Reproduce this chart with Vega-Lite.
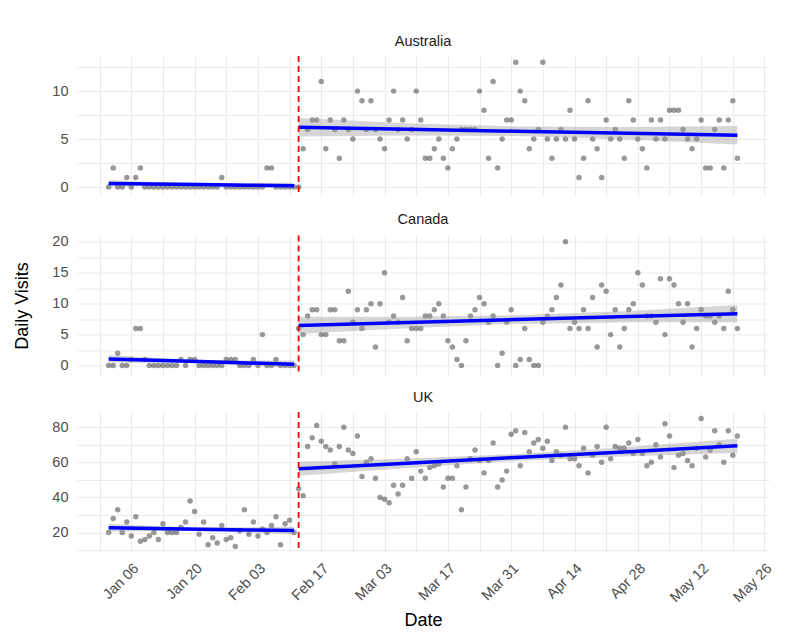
{
  "$schema": "https://vega.github.io/schema/vega-lite/v6.json",
  "padding": {"top": 33, "left": 13, "right": 0, "bottom": 0},
  "background": "white",
  "spacing": 12.5,
  "datasets": {
    "visits": [
      {"date": "2021/01/01", "Australia": 0, "Canada": 0, "UK": 20},
      {"date": "2021/01/02", "Australia": 2, "Canada": 0, "UK": 28},
      {"date": "2021/01/03", "Australia": 0, "Canada": 2, "UK": 33},
      {"date": "2021/01/04", "Australia": 0, "Canada": 0, "UK": 20},
      {"date": "2021/01/05", "Australia": 1, "Canada": 0, "UK": 26},
      {"date": "2021/01/06", "Australia": 0, "Canada": 1, "UK": 18},
      {"date": "2021/01/07", "Australia": 1, "Canada": 6, "UK": 29},
      {"date": "2021/01/08", "Australia": 2, "Canada": 6, "UK": 15},
      {"date": "2021/01/09", "Australia": 0, "Canada": 1, "UK": 16},
      {"date": "2021/01/10", "Australia": 0, "Canada": 0, "UK": 18},
      {"date": "2021/01/11", "Australia": 0, "Canada": 0, "UK": 20},
      {"date": "2021/01/12", "Australia": 0, "Canada": 0, "UK": 16},
      {"date": "2021/01/13", "Australia": 0, "Canada": 0, "UK": 25},
      {"date": "2021/01/14", "Australia": 0, "Canada": 0, "UK": 20},
      {"date": "2021/01/15", "Australia": 0, "Canada": 0, "UK": 20},
      {"date": "2021/01/16", "Australia": 0, "Canada": 0, "UK": 20},
      {"date": "2021/01/17", "Australia": 0, "Canada": 1, "UK": 23},
      {"date": "2021/01/18", "Australia": 0, "Canada": 0, "UK": 26},
      {"date": "2021/01/19", "Australia": 0, "Canada": 1, "UK": 38},
      {"date": "2021/01/20", "Australia": 0, "Canada": 1, "UK": 32},
      {"date": "2021/01/21", "Australia": 0, "Canada": 0, "UK": 19},
      {"date": "2021/01/22", "Australia": 0, "Canada": 0, "UK": 26},
      {"date": "2021/01/23", "Australia": 0, "Canada": 0, "UK": 13},
      {"date": "2021/01/24", "Australia": 0, "Canada": 0, "UK": 17},
      {"date": "2021/01/25", "Australia": 0, "Canada": 0, "UK": 14},
      {"date": "2021/01/26", "Australia": 1, "Canada": 0, "UK": 24},
      {"date": "2021/01/27", "Australia": 0, "Canada": 1, "UK": 16},
      {"date": "2021/01/28", "Australia": 0, "Canada": 1, "UK": 17},
      {"date": "2021/01/29", "Australia": 0, "Canada": 1, "UK": 12},
      {"date": "2021/01/30", "Australia": 0, "Canada": 0, "UK": 21},
      {"date": "2021/01/31", "Australia": 0, "Canada": 0, "UK": 33},
      {"date": "2021/02/01", "Australia": 0, "Canada": 0, "UK": 19},
      {"date": "2021/02/02", "Australia": 0, "Canada": 1, "UK": 26},
      {"date": "2021/02/03", "Australia": 0, "Canada": 0, "UK": 18},
      {"date": "2021/02/04", "Australia": 0, "Canada": 5, "UK": 22},
      {"date": "2021/02/05", "Australia": 2, "Canada": 0, "UK": 20},
      {"date": "2021/02/06", "Australia": 2, "Canada": 0, "UK": 24},
      {"date": "2021/02/07", "Australia": 0, "Canada": 1, "UK": 29},
      {"date": "2021/02/08", "Australia": 0, "Canada": 0, "UK": 13},
      {"date": "2021/02/09", "Australia": 0, "Canada": 0, "UK": 25},
      {"date": "2021/02/10", "Australia": 0, "Canada": 0, "UK": 27},
      {"date": "2021/02/11", "Australia": 0, "Canada": 0, "UK": 20},
      {"date": "2021/02/12", "Australia": 0, "Canada": 6, "UK": 45},
      {"date": "2021/02/13", "Australia": 4, "Canada": 5, "UK": 41},
      {"date": "2021/02/14", "Australia": 6, "Canada": 8, "UK": 69},
      {"date": "2021/02/15", "Australia": 7, "Canada": 9, "UK": 74},
      {"date": "2021/02/16", "Australia": 7, "Canada": 9, "UK": 81},
      {"date": "2021/02/17", "Australia": 11, "Canada": 5, "UK": 72},
      {"date": "2021/02/18", "Australia": 4, "Canada": 5, "UK": 69},
      {"date": "2021/02/19", "Australia": 7, "Canada": 9, "UK": 67},
      {"date": "2021/02/20", "Australia": 6, "Canada": 9, "UK": 59},
      {"date": "2021/02/21", "Australia": 3, "Canada": 4, "UK": 69},
      {"date": "2021/02/22", "Australia": 7, "Canada": 4, "UK": 80},
      {"date": "2021/02/23", "Australia": 6, "Canada": 12, "UK": 67},
      {"date": "2021/02/24", "Australia": 5, "Canada": 7, "UK": 65},
      {"date": "2021/02/25", "Australia": 10, "Canada": 9, "UK": 75},
      {"date": "2021/02/26", "Australia": 9, "Canada": 6, "UK": 52},
      {"date": "2021/02/27", "Australia": 6, "Canada": 9, "UK": 60},
      {"date": "2021/02/28", "Australia": 9, "Canada": 10, "UK": 62},
      {"date": "2021/03/01", "Australia": 6, "Canada": 3, "UK": 51},
      {"date": "2021/03/02", "Australia": 5, "Canada": 10, "UK": 40},
      {"date": "2021/03/03", "Australia": 4, "Canada": 15, "UK": 39},
      {"date": "2021/03/04", "Australia": 7, "Canada": 7, "UK": 37},
      {"date": "2021/03/05", "Australia": 10, "Canada": 8, "UK": 47},
      {"date": "2021/03/06", "Australia": 6, "Canada": 7, "UK": 42},
      {"date": "2021/03/07", "Australia": 7, "Canada": 11, "UK": 47},
      {"date": "2021/03/08", "Australia": 5, "Canada": 4, "UK": 62},
      {"date": "2021/03/09", "Australia": 6, "Canada": 6, "UK": 51},
      {"date": "2021/03/10", "Australia": 10, "Canada": 6, "UK": 66},
      {"date": "2021/03/11", "Australia": 7, "Canada": 6, "UK": 55},
      {"date": "2021/03/12", "Australia": 3, "Canada": 8, "UK": 51},
      {"date": "2021/03/13", "Australia": 3, "Canada": 8, "UK": 57},
      {"date": "2021/03/14", "Australia": 4, "Canada": 9, "UK": 58},
      {"date": "2021/03/15", "Australia": 5, "Canada": 10, "UK": 59},
      {"date": "2021/03/16", "Australia": 3, "Canada": 8, "UK": 46},
      {"date": "2021/03/17", "Australia": 2, "Canada": 4, "UK": 51},
      {"date": "2021/03/18", "Australia": 4, "Canada": 3, "UK": 51},
      {"date": "2021/03/19", "Australia": 5, "Canada": 1, "UK": 58},
      {"date": "2021/03/20", "Australia": 6, "Canada": 0, "UK": 33},
      {"date": "2021/03/21", "Australia": 6, "Canada": 4, "UK": 46},
      {"date": "2021/03/22", "Australia": 6, "Canada": 8, "UK": 62},
      {"date": "2021/03/23", "Australia": 6, "Canada": 9, "UK": 67},
      {"date": "2021/03/24", "Australia": 10, "Canada": 11, "UK": 61},
      {"date": "2021/03/25", "Australia": 8, "Canada": 10, "UK": 54},
      {"date": "2021/03/26", "Australia": 3, "Canada": 7, "UK": 61},
      {"date": "2021/03/27", "Australia": 11, "Canada": 8, "UK": 71},
      {"date": "2021/03/28", "Australia": 2, "Canada": 0, "UK": 46},
      {"date": "2021/03/29", "Australia": 5, "Canada": 2, "UK": 50},
      {"date": "2021/03/30", "Australia": 7, "Canada": 7, "UK": 55},
      {"date": "2021/03/31", "Australia": 7, "Canada": 9, "UK": 76},
      {"date": "2021/04/01", "Australia": 13, "Canada": 0, "UK": 78},
      {"date": "2021/04/02", "Australia": 10, "Canada": 1, "UK": 58},
      {"date": "2021/04/03", "Australia": 9, "Canada": 6, "UK": 77},
      {"date": "2021/04/04", "Australia": 4, "Canada": 1, "UK": 66},
      {"date": "2021/04/05", "Australia": 5, "Canada": 0, "UK": 71},
      {"date": "2021/04/06", "Australia": 6, "Canada": 0, "UK": 73},
      {"date": "2021/04/07", "Australia": 13, "Canada": 7, "UK": 68},
      {"date": "2021/04/08", "Australia": 5, "Canada": 8, "UK": 72},
      {"date": "2021/04/09", "Australia": 3, "Canada": 9, "UK": 61},
      {"date": "2021/04/10", "Australia": 5, "Canada": 11, "UK": 66},
      {"date": "2021/04/11", "Australia": 6, "Canada": 13, "UK": 64},
      {"date": "2021/04/12", "Australia": 5, "Canada": 20, "UK": 80},
      {"date": "2021/04/13", "Australia": 8, "Canada": 6, "UK": 62},
      {"date": "2021/04/14", "Australia": 5, "Canada": 7, "UK": 62},
      {"date": "2021/04/15", "Australia": 1, "Canada": 6, "UK": 58},
      {"date": "2021/04/16", "Australia": 3, "Canada": 9, "UK": 68},
      {"date": "2021/04/17", "Australia": 9, "Canada": 6, "UK": 54},
      {"date": "2021/04/18", "Australia": 5, "Canada": 11, "UK": 64},
      {"date": "2021/04/19", "Australia": 4, "Canada": 3, "UK": 69},
      {"date": "2021/04/20", "Australia": 1, "Canada": 13, "UK": 60},
      {"date": "2021/04/21", "Australia": 7, "Canada": 12, "UK": 80},
      {"date": "2021/04/22", "Australia": 5, "Canada": 5, "UK": 62},
      {"date": "2021/04/23", "Australia": 6, "Canada": 9, "UK": 69},
      {"date": "2021/04/24", "Australia": 5, "Canada": 3, "UK": 68},
      {"date": "2021/04/25", "Australia": 3, "Canada": 6, "UK": 68},
      {"date": "2021/04/26", "Australia": 9, "Canada": 9, "UK": 71},
      {"date": "2021/04/27", "Australia": 7, "Canada": 10, "UK": 65},
      {"date": "2021/04/28", "Australia": 5, "Canada": 15, "UK": 73},
      {"date": "2021/04/29", "Australia": 4, "Canada": 13, "UK": 65},
      {"date": "2021/04/30", "Australia": 2, "Canada": 8, "UK": 58},
      {"date": "2021/05/01", "Australia": 7, "Canada": 8, "UK": 60},
      {"date": "2021/05/02", "Australia": 5, "Canada": 7, "UK": 70},
      {"date": "2021/05/03", "Australia": 7, "Canada": 14, "UK": 63},
      {"date": "2021/05/04", "Australia": 5, "Canada": 5, "UK": 82},
      {"date": "2021/05/05", "Australia": 8, "Canada": 14, "UK": 75},
      {"date": "2021/05/06", "Australia": 8, "Canada": 13, "UK": 57},
      {"date": "2021/05/07", "Australia": 8, "Canada": 10, "UK": 64},
      {"date": "2021/05/08", "Australia": 6, "Canada": 7, "UK": 65},
      {"date": "2021/05/09", "Australia": 5, "Canada": 10, "UK": 61},
      {"date": "2021/05/10", "Australia": 4, "Canada": 3, "UK": 58},
      {"date": "2021/05/11", "Australia": 5, "Canada": 6, "UK": 68},
      {"date": "2021/05/12", "Australia": 7, "Canada": 9, "UK": 85},
      {"date": "2021/05/13", "Australia": 2, "Canada": 8, "UK": 63},
      {"date": "2021/05/14", "Australia": 2, "Canada": 8, "UK": 67},
      {"date": "2021/05/15", "Australia": 6, "Canada": 7, "UK": 78},
      {"date": "2021/05/16", "Australia": 7, "Canada": 8, "UK": 70},
      {"date": "2021/05/17", "Australia": 2, "Canada": 6, "UK": 60},
      {"date": "2021/05/18", "Australia": 7, "Canada": 12, "UK": 78},
      {"date": "2021/05/19", "Australia": 9, "Canada": 9, "UK": 64},
      {"date": "2021/05/20", "Australia": 3, "Canada": 6, "UK": 75}
    ],
    "fits": [
      {"country": "Australia", "segment": "pre", "date": "2021/01/01", "fit": 0.38, "lo": 0.06, "hi": 0.70},
      {"country": "Australia", "segment": "pre", "date": "2021/01/11", "fit": 0.32, "lo": 0.11, "hi": 0.53},
      {"country": "Australia", "segment": "pre", "date": "2021/01/21", "fit": 0.26, "lo": 0.10, "hi": 0.42},
      {"country": "Australia", "segment": "pre", "date": "2021/02/01", "fit": 0.20, "lo": -0.01, "hi": 0.41},
      {"country": "Australia", "segment": "pre", "date": "2021/02/11", "fit": 0.14, "lo": -0.18, "hi": 0.46},
      {"country": "Australia", "segment": "post", "date": "2021/02/12", "fit": 6.23, "lo": 5.26, "hi": 7.20},
      {"country": "Australia", "segment": "post", "date": "2021/03/08", "fit": 6.02, "lo": 5.38, "hi": 6.66},
      {"country": "Australia", "segment": "post", "date": "2021/04/01", "fit": 5.82, "lo": 5.32, "hi": 6.32},
      {"country": "Australia", "segment": "post", "date": "2021/04/26", "fit": 5.61, "lo": 4.97, "hi": 6.25},
      {"country": "Australia", "segment": "post", "date": "2021/05/20", "fit": 5.40, "lo": 4.43, "hi": 6.37},
      {"country": "Canada", "segment": "pre", "date": "2021/01/01", "fit": 1.08, "lo": 0.48, "hi": 1.68},
      {"country": "Canada", "segment": "pre", "date": "2021/01/11", "fit": 0.87, "lo": 0.47, "hi": 1.27},
      {"country": "Canada", "segment": "pre", "date": "2021/01/21", "fit": 0.66, "lo": 0.36, "hi": 0.96},
      {"country": "Canada", "segment": "pre", "date": "2021/02/01", "fit": 0.43, "lo": 0.03, "hi": 0.83},
      {"country": "Canada", "segment": "pre", "date": "2021/02/11", "fit": 0.22, "lo": -0.38, "hi": 0.82},
      {"country": "Canada", "segment": "post", "date": "2021/02/12", "fit": 6.49, "lo": 5.11, "hi": 7.87},
      {"country": "Canada", "segment": "post", "date": "2021/03/08", "fit": 6.96, "lo": 6.04, "hi": 7.88},
      {"country": "Canada", "segment": "post", "date": "2021/04/01", "fit": 7.43, "lo": 6.73, "hi": 8.13},
      {"country": "Canada", "segment": "post", "date": "2021/04/26", "fit": 7.91, "lo": 6.99, "hi": 8.83},
      {"country": "Canada", "segment": "post", "date": "2021/05/20", "fit": 8.38, "lo": 6.98, "hi": 9.78},
      {"country": "UK", "segment": "pre", "date": "2021/01/01", "fit": 22.7, "lo": 20.5, "hi": 24.9},
      {"country": "UK", "segment": "pre", "date": "2021/01/11", "fit": 22.3, "lo": 20.85, "hi": 23.75},
      {"country": "UK", "segment": "pre", "date": "2021/01/21", "fit": 21.9, "lo": 20.8, "hi": 23.0},
      {"country": "UK", "segment": "pre", "date": "2021/02/01", "fit": 21.5, "lo": 20.05, "hi": 22.95},
      {"country": "UK", "segment": "pre", "date": "2021/02/11", "fit": 21.1, "lo": 18.9, "hi": 23.3},
      {"country": "UK", "segment": "post", "date": "2021/02/12", "fit": 56.3, "lo": 52.3, "hi": 60.3},
      {"country": "UK", "segment": "post", "date": "2021/03/08", "fit": 59.5, "lo": 56.85, "hi": 62.15},
      {"country": "UK", "segment": "post", "date": "2021/04/01", "fit": 62.8, "lo": 60.8, "hi": 64.8},
      {"country": "UK", "segment": "post", "date": "2021/04/26", "fit": 66.1, "lo": 63.45, "hi": 68.75},
      {"country": "UK", "segment": "post", "date": "2021/05/20", "fit": 69.4, "lo": 65.4, "hi": 73.4}
    ],
    "events": [
      {"date": "2021/02/12", "event": "intervention"}
    ]
  },
  "vconcat": [
    {
      "title": "Australia",
      "width": 692,
      "height": 140,
      "encoding": {
        "x": {
          "field": "date",
          "type": "temporal",
          "scale": {"domain": [{"year": 2020, "month": 12, "date": 25}, {"year": 2021, "month": 5, "date": 27}]},
          "axis": {
            "title": null,
            "labels": false,
            "ticks": true,
            "tickSize": 2.5,
            "tickColor": "transparent",
            "tickCount": 50,
            "values": [
              {"year": 2020, "month": 12, "date": 30}, {"year": 2021, "month": 1, "date": 6},
              {"year": 2021, "month": 1, "date": 13}, {"year": 2021, "month": 1, "date": 20},
              {"year": 2021, "month": 1, "date": 27}, {"year": 2021, "month": 2, "date": 3},
              {"year": 2021, "month": 2, "date": 10}, {"year": 2021, "month": 2, "date": 17},
              {"year": 2021, "month": 2, "date": 24}, {"year": 2021, "month": 3, "date": 3},
              {"year": 2021, "month": 3, "date": 10}, {"year": 2021, "month": 3, "date": 17},
              {"year": 2021, "month": 3, "date": 24}, {"year": 2021, "month": 3, "date": 31},
              {"year": 2021, "month": 4, "date": 7}, {"year": 2021, "month": 4, "date": 14},
              {"year": 2021, "month": 4, "date": 21}, {"year": 2021, "month": 4, "date": 28},
              {"year": 2021, "month": 5, "date": 5}, {"year": 2021, "month": 5, "date": 12},
              {"year": 2021, "month": 5, "date": 19}, {"year": 2021, "month": 5, "date": 26}
            ]
          }
        }
      },
      "layer": [
        {
          "data": {"name": "visits"},
          "mark": {"type": "circle", "size": 30, "color": "#555555", "opacity": 0.6},
          "encoding": {
            "y": {
              "field": "Australia",
              "type": "quantitative",
              "scale": {"domain": [-0.93, 13.66], "nice": false, "zero": false},
              "axis": {"title": null, "format": "d", "tickCount": 50, "values": [0, 2.5, 5, 7.5, 10, 12.5], "labelExpr": "datum.value % 5 == 0 ? datum.label : ''"}
            }
          }
        },
        {
          "data": {"name": "fits"},
          "transform": [{"filter": "datum.country == 'Australia'"}],
          "mark": {"type": "area", "color": "#999999", "opacity": 0.4},
          "encoding": {
            "y": {"field": "lo", "type": "quantitative", "scale": {"domain": [-0.93, 13.66], "nice": false, "zero": false}},
            "y2": {"field": "hi"},
            "detail": {"field": "segment"}
          }
        },
        {
          "data": {"name": "fits"},
          "transform": [{"filter": "datum.country == 'Australia'"}],
          "mark": {"type": "line", "color": "#0000FF", "strokeWidth": 3.5},
          "encoding": {
            "y": {"field": "fit", "type": "quantitative", "scale": {"domain": [-0.93, 13.66], "nice": false, "zero": false}},
            "detail": {"field": "segment"}
          }
        },
        {
          "data": {"name": "events"},
          "mark": {"type": "rule", "color": "#FF0000", "strokeDash": [6, 4], "strokeWidth": 1.8},
          "encoding": {}
        }
      ]
    },
    {
      "title": "Canada",
      "width": 692,
      "height": 140,
      "encoding": {
        "x": {
          "field": "date",
          "type": "temporal",
          "scale": {"domain": [{"year": 2020, "month": 12, "date": 25}, {"year": 2021, "month": 5, "date": 27}]},
          "axis": {
            "title": null,
            "labels": false,
            "tickCount": 50,
            "values": [
              {"year": 2020, "month": 12, "date": 30}, {"year": 2021, "month": 1, "date": 6},
              {"year": 2021, "month": 1, "date": 13}, {"year": 2021, "month": 1, "date": 20},
              {"year": 2021, "month": 1, "date": 27}, {"year": 2021, "month": 2, "date": 3},
              {"year": 2021, "month": 2, "date": 10}, {"year": 2021, "month": 2, "date": 17},
              {"year": 2021, "month": 2, "date": 24}, {"year": 2021, "month": 3, "date": 3},
              {"year": 2021, "month": 3, "date": 10}, {"year": 2021, "month": 3, "date": 17},
              {"year": 2021, "month": 3, "date": 24}, {"year": 2021, "month": 3, "date": 31},
              {"year": 2021, "month": 4, "date": 7}, {"year": 2021, "month": 4, "date": 14},
              {"year": 2021, "month": 4, "date": 21}, {"year": 2021, "month": 4, "date": 28},
              {"year": 2021, "month": 5, "date": 5}, {"year": 2021, "month": 5, "date": 12},
              {"year": 2021, "month": 5, "date": 19}, {"year": 2021, "month": 5, "date": 26}
            ]
          }
        }
      },
      "layer": [
        {
          "data": {"name": "visits"},
          "mark": {"type": "circle", "size": 30, "color": "#555555", "opacity": 0.6},
          "encoding": {
            "y": {
              "field": "Canada",
              "type": "quantitative",
              "scale": {"domain": [-1.6, 21.0], "nice": false, "zero": false},
              "axis": {"title": "Daily Visits", "titlePadding": 20.5, "format": "d", "tickCount": 50, "values": [0, 2.5, 5, 7.5, 10, 12.5, 15, 17.5, 20], "labelExpr": "datum.value % 5 == 0 ? datum.label : ''"}
            }
          }
        },
        {
          "data": {"name": "fits"},
          "transform": [{"filter": "datum.country == 'Canada'"}],
          "mark": {"type": "area", "color": "#999999", "opacity": 0.4},
          "encoding": {
            "y": {"field": "lo", "type": "quantitative", "scale": {"domain": [-1.6, 21.0], "nice": false, "zero": false}},
            "y2": {"field": "hi"},
            "detail": {"field": "segment"}
          }
        },
        {
          "data": {"name": "fits"},
          "transform": [{"filter": "datum.country == 'Canada'"}],
          "mark": {"type": "line", "color": "#0000FF", "strokeWidth": 3.5},
          "encoding": {
            "y": {"field": "fit", "type": "quantitative", "scale": {"domain": [-1.6, 21.0], "nice": false, "zero": false}},
            "detail": {"field": "segment"}
          }
        },
        {
          "data": {"name": "events"},
          "mark": {"type": "rule", "color": "#FF0000", "strokeDash": [6, 4], "strokeWidth": 1.8},
          "encoding": {}
        }
      ]
    },
    {
      "title": "UK",
      "width": 692,
      "height": 140,
      "encoding": {
        "x": {
          "field": "date",
          "type": "temporal",
          "scale": {"domain": [{"year": 2020, "month": 12, "date": 25}, {"year": 2021, "month": 5, "date": 27}]},
          "axis": {
            "title": "Date",
            "titlePadding": 7,
            "format": "%b %d",
            "labelExpr": "indexof(['Jan 06','Jan 20','Feb 03','Feb 17','Mar 03','Mar 17','Mar 31','Apr 14','Apr 28','May 12','May 26'], datum.label) >= 0 ? datum.label : ''",
            "labelAngle": -45,
            "labelAlign": "right",
            "labelBaseline": "top",
            "labelPadding": 9,
            "tickCount": 50,
            "values": [
              {"year": 2020, "month": 12, "date": 30}, {"year": 2021, "month": 1, "date": 6},
              {"year": 2021, "month": 1, "date": 13}, {"year": 2021, "month": 1, "date": 20},
              {"year": 2021, "month": 1, "date": 27}, {"year": 2021, "month": 2, "date": 3},
              {"year": 2021, "month": 2, "date": 10}, {"year": 2021, "month": 2, "date": 17},
              {"year": 2021, "month": 2, "date": 24}, {"year": 2021, "month": 3, "date": 3},
              {"year": 2021, "month": 3, "date": 10}, {"year": 2021, "month": 3, "date": 17},
              {"year": 2021, "month": 3, "date": 24}, {"year": 2021, "month": 3, "date": 31},
              {"year": 2021, "month": 4, "date": 7}, {"year": 2021, "month": 4, "date": 14},
              {"year": 2021, "month": 4, "date": 21}, {"year": 2021, "month": 4, "date": 28},
              {"year": 2021, "month": 5, "date": 5}, {"year": 2021, "month": 5, "date": 12},
              {"year": 2021, "month": 5, "date": 19}, {"year": 2021, "month": 5, "date": 26}
            ]
          }
        }
      },
      "layer": [
        {
          "data": {"name": "visits"},
          "mark": {"type": "circle", "size": 30, "color": "#555555", "opacity": 0.6},
          "encoding": {
            "y": {
              "field": "UK",
              "type": "quantitative",
              "scale": {"domain": [8.9, 88.7], "nice": false, "zero": false},
              "axis": {"title": null, "format": "d", "tickCount": 50, "values": [10, 20, 30, 40, 50, 60, 70, 80], "labelExpr": "datum.value % 20 == 0 ? datum.label : ''"}
            }
          }
        },
        {
          "data": {"name": "fits"},
          "transform": [{"filter": "datum.country == 'UK'"}],
          "mark": {"type": "area", "color": "#999999", "opacity": 0.4},
          "encoding": {
            "y": {"field": "lo", "type": "quantitative", "scale": {"domain": [8.9, 88.7], "nice": false, "zero": false}},
            "y2": {"field": "hi"},
            "detail": {"field": "segment"}
          }
        },
        {
          "data": {"name": "fits"},
          "transform": [{"filter": "datum.country == 'UK'"}],
          "mark": {"type": "line", "color": "#0000FF", "strokeWidth": 3.5},
          "encoding": {
            "y": {"field": "fit", "type": "quantitative", "scale": {"domain": [8.9, 88.7], "nice": false, "zero": false}},
            "detail": {"field": "segment"}
          }
        },
        {
          "data": {"name": "events"},
          "mark": {"type": "rule", "color": "#FF0000", "strokeDash": [6, 4], "strokeWidth": 1.8},
          "encoding": {}
        }
      ]
    }
  ],
  "config": {
    "font": "Liberation Sans",
    "view": {"stroke": null},
    "axis": {
      "gridColor": "#EBEBEB",
      "gridWidth": 1.1,
      "domain": false,
      "ticks": false,
      "labelColor": "#4D4D4D",
      "labelFontSize": 14.5,
      "labelPadding": 9,
      "labelOverlap": false,
      "labelFlush": false,
      "titleFontSize": 18,
      "titleFontWeight": "normal",
      "titleColor": "#000000"
    },
    "title": {"fontSize": 14.5, "fontWeight": "normal", "color": "#1A1A1A", "anchor": "middle", "offset": 6}
  }
}
